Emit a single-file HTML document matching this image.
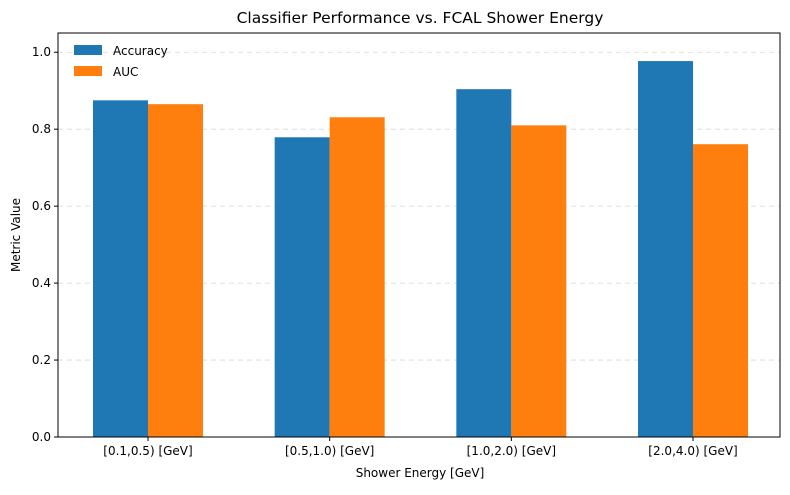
<!DOCTYPE html>
<html><head><meta charset="utf-8"><style>
body{margin:0;background:#fff;font-family:"Liberation Sans","DejaVu Sans",sans-serif;}
svg text{font-family:"DejaVu Sans","Liberation Sans",sans-serif;fill:#000;}
</style></head><body>
<svg id="chart" width="790" height="490" xmlns="http://www.w3.org/2000/svg">
<rect width="790" height="490" fill="#fff"/>
<g id="grid"></g><g id="bars"></g><g id="axes"></g>
<text x="420" y="23" font-size="15.5" text-anchor="middle">Classifier Performance vs. FCAL Shower Energy</text>
<text x="420" y="477" font-size="12" text-anchor="middle">Shower Energy [GeV]</text>
<text x="20" y="235" font-size="12" text-anchor="middle" transform="rotate(-90 20 235)">Metric Value</text>
<g>
<rect x="74" y="45" width="28" height="10" fill="#1f77b4"/>
<text x="113" y="55" font-size="12">Accuracy</text>
<rect x="74" y="66" width="28" height="10" fill="#ff7f0e"/>
<text x="113" y="76" font-size="12">AUC</text>
</g>
</svg>
<script>
const categories=["[0.1,0.5) [GeV]","[0.5,1.0) [GeV]","[1.0,2.0) [GeV]","[2.0,4.0) [GeV]"];
const accuracy=[0.875,0.779,0.904,0.977];
const auc=[0.865,0.831,0.810,0.761];
const yTicks=[0,0.2,0.4,0.6,0.8,1.0];
const yTickLabels=["0.0","0.2","0.4","0.6","0.8","1.0"];
const NS="http://www.w3.org/2000/svg";
const L=58,R=780,T=33,B=437,YMAX=1.05;
const y=v=>B-(v/YMAX)*(B-T);
// band scale: first group center 148, spacing 181.67
const X0=148,STEP=181.67;
const xc=i=>X0+i*STEP;
const bw=55;
function mk(tag,attrs,parent){const e=document.createElementNS(NS,tag);for(const k in attrs)e.setAttribute(k,attrs[k]);document.getElementById(parent).appendChild(e);return e;}
yTicks.forEach((t,i)=>{
  if(t>0){const g=mk('line',{x1:L,x2:R,y1:y(t),y2:y(t),stroke:'#b0b0b0','stroke-dasharray':'5,4','stroke-width':0.8,opacity:0.5},'grid');
  
  }
  const tk=mk('line',{x1:L-4,x2:L,y1:y(t),y2:y(t),stroke:'#000'},'axes');
  
  
  const tx=mk('text',{x:L-7,y:y(t)+4,'font-size':12,'text-anchor':'end'},'axes');tx.textContent=yTickLabels[i];
  
  
});
categories.forEach((c,i)=>{
  const cx=xc(i);
  const a=mk('rect',{x:cx-bw,y:y(accuracy[i]),width:bw,height:B-y(accuracy[i]),fill:'#1f77b4'},'bars');
  
  
  const u=mk('rect',{x:cx,y:y(auc[i]),width:bw,height:B-y(auc[i]),fill:'#ff7f0e'},'bars');
  
  
  const tk=mk('line',{x1:cx,x2:cx,y1:B,y2:B+4,stroke:'#000'},'axes');
  
  
  const tx=mk('text',{x:cx,y:B+18,'font-size':12,'text-anchor':'middle'},'axes');tx.textContent=c;
  
  
});
const f=mk('rect',{x:L,y:T,width:R-L,height:B-T,fill:'none',stroke:'#000','stroke-width':1},'axes');


</script>
</body></html>
